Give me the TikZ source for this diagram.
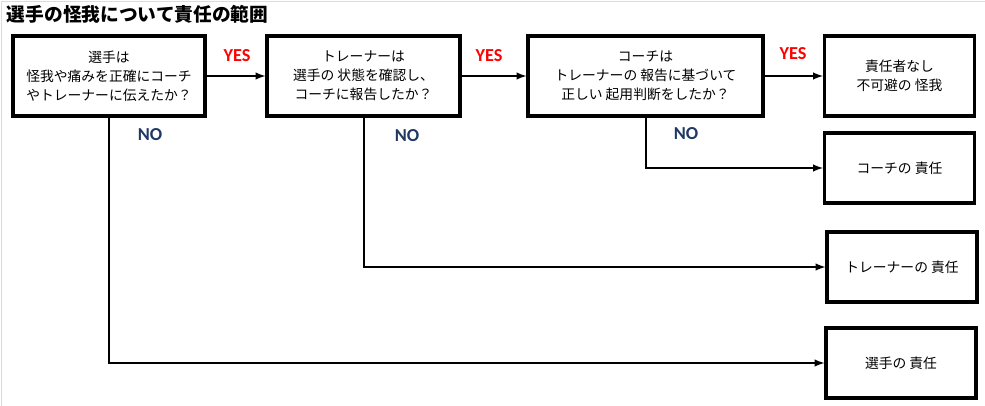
\documentclass[tikz,border=0pt]{standalone}
\usepackage{fontspec}
\setmainfont{Noto Sans CJK JP}
\newfontfamily\yesno{Carlito}
\usetikzlibrary{positioning,calc}

\definecolor{yescol}{HTML}{FF0000}
\definecolor{nocol}{HTML}{1F3864}
\definecolor{framecol}{HTML}{D6DCE5}

\begin{document}
\begin{tikzpicture}[
    x=0.025cm, y=-0.025cm,
    ask/.style={draw, line width=2.2pt, rectangle, minimum height=2cm, align=center,
        font=\fontsize{9.8}{13.6}\selectfont},
    result/.style={draw, line width=2.2pt, rectangle, minimum width=3.75cm, minimum height=1.75cm,
        align=center, font=\fontsize{9.8}{13.6}\selectfont},
    yeslbl/.style={text=yescol, font=\yesno\bfseries\fontsize{13}{13}\selectfont},
    nolbl/.style={text=nocol, font=\yesno\bfseries\fontsize{13}{13}\selectfont},
    flow/.style={line width=1.4pt, -latex},
    >=latex
]
\useasboundingbox (0,0) rectangle (985,406);
\draw[framecol, line width=0.6pt] (1,406) -- (1,1) -- (985,1);

% Title
\node[anchor=west, font=\bfseries\fontsize{13.3}{14}\selectfont] (title) at (2,14) {選手の怪我について責任の範囲};

% Question boxes
\node[ask, minimum width=4.8cm] (q1) at (109,76) {選手は\\怪我や痛みを正確にコーチ\\やトレーナーに伝えたか？};
\node[ask, minimum width=4.825cm] (q2) at (363.5,76) {トレーナーは\\選手の 状態を確認し、\\コーチに報告したか？};
\node[ask, minimum width=5.875cm] (q3) at (645.5,76) {コーチは\\トレーナーの 報告に基づいて\\正しい 起用判断をしたか？};

% Result boxes
\node[result, minimum height=2cm] (r1) at (899.5,76) {責任者なし\\不可避の 怪我};
\node[result] (r2) at (899.5,168) {コーチの 責任};
\node[result] (r3) at (902,267) {トレーナーの 責任};
\node[result] (r4) at (901,363) {選手の 責任};

% Helper coordinates
\coordinate (n1) at (109,363);
\coordinate (n2) at (364,267);
\coordinate (n3) at (646,168);

% YES path
\draw[flow] (q1) -- (q2);
\draw[flow] (q2) -- (q3);
\draw[flow] (q3) -- (r1);
\node[yeslbl] (y1) at (237,56) {YES};
\node[yeslbl] (y2) at (489,56) {YES};
\node[yeslbl] (y3) at (793,54) {YES};

% NO paths
\draw[flow] (q1.south -| n1) -- (n1) -- (r4.west |- n1);
\draw[flow] (q2.south -| n2) -- (n2) -- (r3.west |- n2);
\draw[flow] (q3.south -| n3) -- (n3) -- (r2.west |- n3);
\node[nolbl] (no1) at (150,135) {NO};
\node[nolbl] (no2) at (407,136) {NO};
\node[nolbl] (no3) at (686,134) {NO};

\end{tikzpicture}
\end{document}
